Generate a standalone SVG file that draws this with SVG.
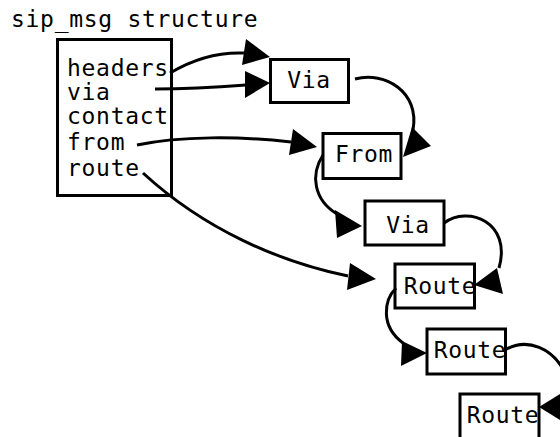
<svg xmlns="http://www.w3.org/2000/svg" width="560" height="437" viewBox="0 0 560 437">
  <style>
    text { font-family: "DejaVu Sans Mono", "Liberation Mono", monospace; font-size: 23px; fill: #000; letter-spacing: 0.7px; }
    .box { fill: #fff; stroke: #000; stroke-width: 3; }
    .edge { fill: none; stroke: #000; stroke-width: 3; }
    .head { fill: #000; stroke: none; }
    .lbl { text-anchor: middle; }
  </style>
  <rect width="560" height="437" fill="#fff"/>

  <text x="11" y="27">sip_msg structure</text>

  <!-- the sip_msg record with its header fields -->
  <g id="sip_msg">
    <rect class="box" x="57.5" y="39.5" width="114" height="156"/>
    <text x="67" y="76">headers</text>
    <text x="67" y="100">via</text>
    <text x="67" y="124">contact</text>
    <text x="67" y="150">from</text>
    <text x="67" y="176">route</text>
  </g>

  <g id="via1">
    <rect class="box" x="270.5" y="59.5" width="78" height="43"/>
    <text class="lbl" x="309" y="88">Via</text>
  </g>
  <g id="from">
    <rect class="box" x="323" y="133.5" width="78" height="45"/>
    <text class="lbl" x="364" y="162">From</text>
  </g>
  <g id="via2">
    <rect class="box" x="365" y="201" width="79" height="44"/>
    <text class="lbl" x="408" y="233">Via</text>
  </g>
  <g id="route1">
    <rect class="box" x="395" y="264" width="79.5" height="44"/>
    <text class="lbl" x="440" y="294">Route</text>
  </g>
  <g id="route2">
    <rect class="box" x="427" y="329" width="78.5" height="45"/>
    <text class="lbl" x="470" y="358">Route</text>
  </g>
  <g id="route3">
    <rect class="box" x="460" y="394" width="79" height="60"/>
    <text class="lbl" x="503" y="423">Route</text>
  </g>

  <!-- pointers between fields and list elements -->
  <g id="connectors">
    <path class="edge" d="M170,73 C195,58 220,52 244,53"/>
    <polygon class="head" points="246,39 242,65 270,57"/>

    <path class="edge" d="M155,89 C190,89 220,87 246,85"/>
    <polygon class="head" points="245,71 245,98 270,83"/>

    <path class="edge" d="M137,145 C180,136 240,136 291,142"/>
    <polygon class="head" points="293,129 289,155 317,147"/>

    <path class="edge" d="M143,173 C205,230 280,262 348,276"/>
    <polygon class="head" points="350,263 347,290 376,279"/>

    <path class="edge" d="M355,79 C385,71 420,92 413,130"/>
    <polygon class="head" points="412,127 431,146 403,157"/>

    <path class="edge" d="M323,155 C310,175 314,200 337,214"/>
    <polygon class="head" points="335,210 337,238 362,226"/>

    <path class="edge" d="M444,223 C468,205 512,222 499,268"/>
    <polygon class="head" points="497,268 503,294 474,285"/>

    <path class="edge" d="M396,288 C384,300 380,326 403,343"/>
    <polygon class="head" points="402,341 401,366 427,353"/>

    <path class="edge" d="M505,350 C525,338 555,345 568,380"/>
    <polygon class="head" points="560,394 560,420 539,407"/>
  </g>
</svg>
